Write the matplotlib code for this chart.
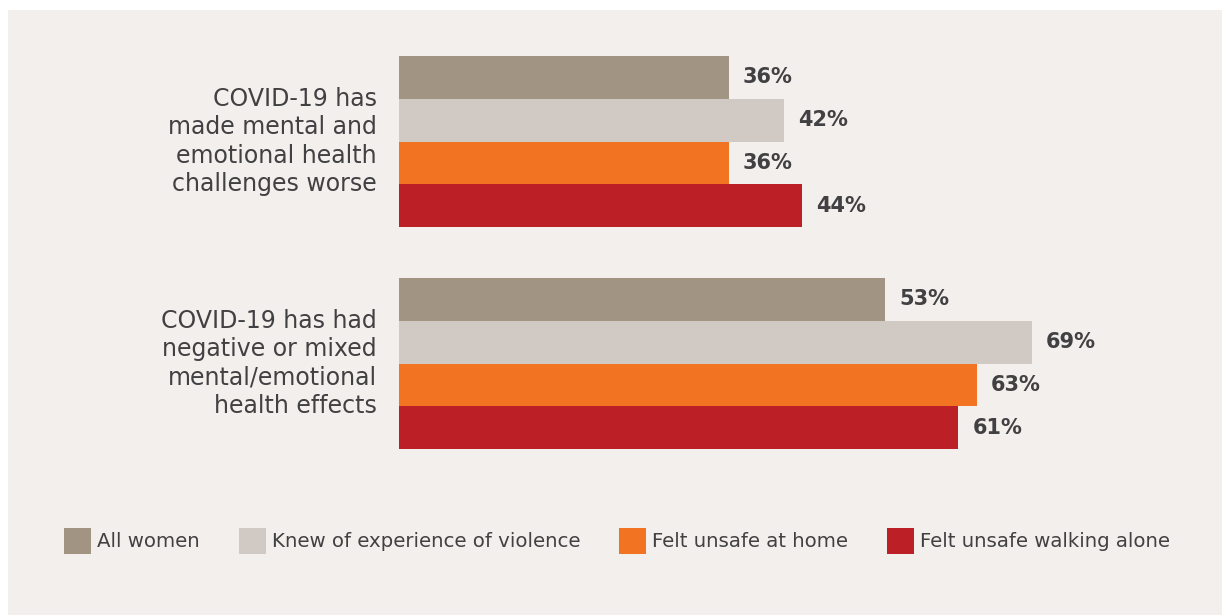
import matplotlib.pyplot as plt
from matplotlib.patches import Patch, Rectangle

# Datos
categorias = [
    "COVID-19 has\nmade mental and\nemotional health\nchallenges worse",
    "COVID-19 has had\nnegative or mixed\nmental/emotional\nhealth effects",
]
series = ["All women", "Knew of experience of violence",
          "Felt unsafe at home", "Felt unsafe walking alone"]
todas = [36, 53]
conocia_violencia = [42, 69]
insegura_casa = [36, 63]
insegura_caminando = [44, 61]
valores = [todas, conocia_violencia, insegura_casa, insegura_caminando]
colores = ["#a29483", "#d1c9c3", "#f27322", "#bd1f26"]

texto = "#414042"
fondo = "#f3efec"

W, H = 1223, 615
fig = plt.figure(figsize=(W / 100, H / 100), dpi=100)
fig.patch.set_facecolor("white")
fig.patches.append(Rectangle((8 / W, 0), (1222 - 8) / W, (H - 10) / H,
                             transform=fig.transFigure, facecolor=fondo,
                             edgecolor="none", zorder=-5))

# Ejes en pixeles: 0% en x=399, 9.17 px por punto porcentual
x0, x1 = 399, 1215
y_top, y_bot = 30, 470
ax = fig.add_axes([x0 / W, 1 - y_bot / H, (x1 - x0) / W, (y_bot - y_top) / H])
ax.set_facecolor("none")
ax.set_xlim(0, (x1 - x0) / 9.17)
ax.set_ylim(1 + (y_bot - 363.5) / 222, -(141.5 - y_top) / 222)

alto = 0.1926
desplaz = [-1.5, -0.5, 0.5, 1.5]
for vals, color, d in zip(valores, colores, desplaz):
    ys = [i + d * alto for i in range(len(categorias))]
    ax.barh(ys, vals, height=alto, color=color, edgecolor="none")
    for y, v in zip(ys, vals):
        ax.annotate(f"{v}%", xy=(v, y), xytext=(10, 0), textcoords="offset points",
                    ha="left", va="center", fontsize=15, fontweight="bold",
                    color=texto)

for i, cat in enumerate(categorias):
    ax.annotate(cat, xy=(0, i), xycoords=("axes fraction", "data"),
                xytext=(-16, 0), textcoords="offset points",
                ha="right", va="center", fontsize=17, color=texto,
                linespacing=1.22)

ax.axis("off")

# Leyenda
handles = [Patch(facecolor=c, edgecolor="none") for c in colores]
fig.legend(handles, series, loc="center", bbox_to_anchor=(617 / W, 1 - 541 / H),
           ncol=4, frameon=False, fontsize=14.2, labelcolor=texto,
           handlelength=1.37, handleheight=1.72, handletextpad=0.3,
           columnspacing=1.98, borderpad=0, borderaxespad=0)

plt.savefig("out.png", dpi=100, facecolor=fig.get_facecolor())
